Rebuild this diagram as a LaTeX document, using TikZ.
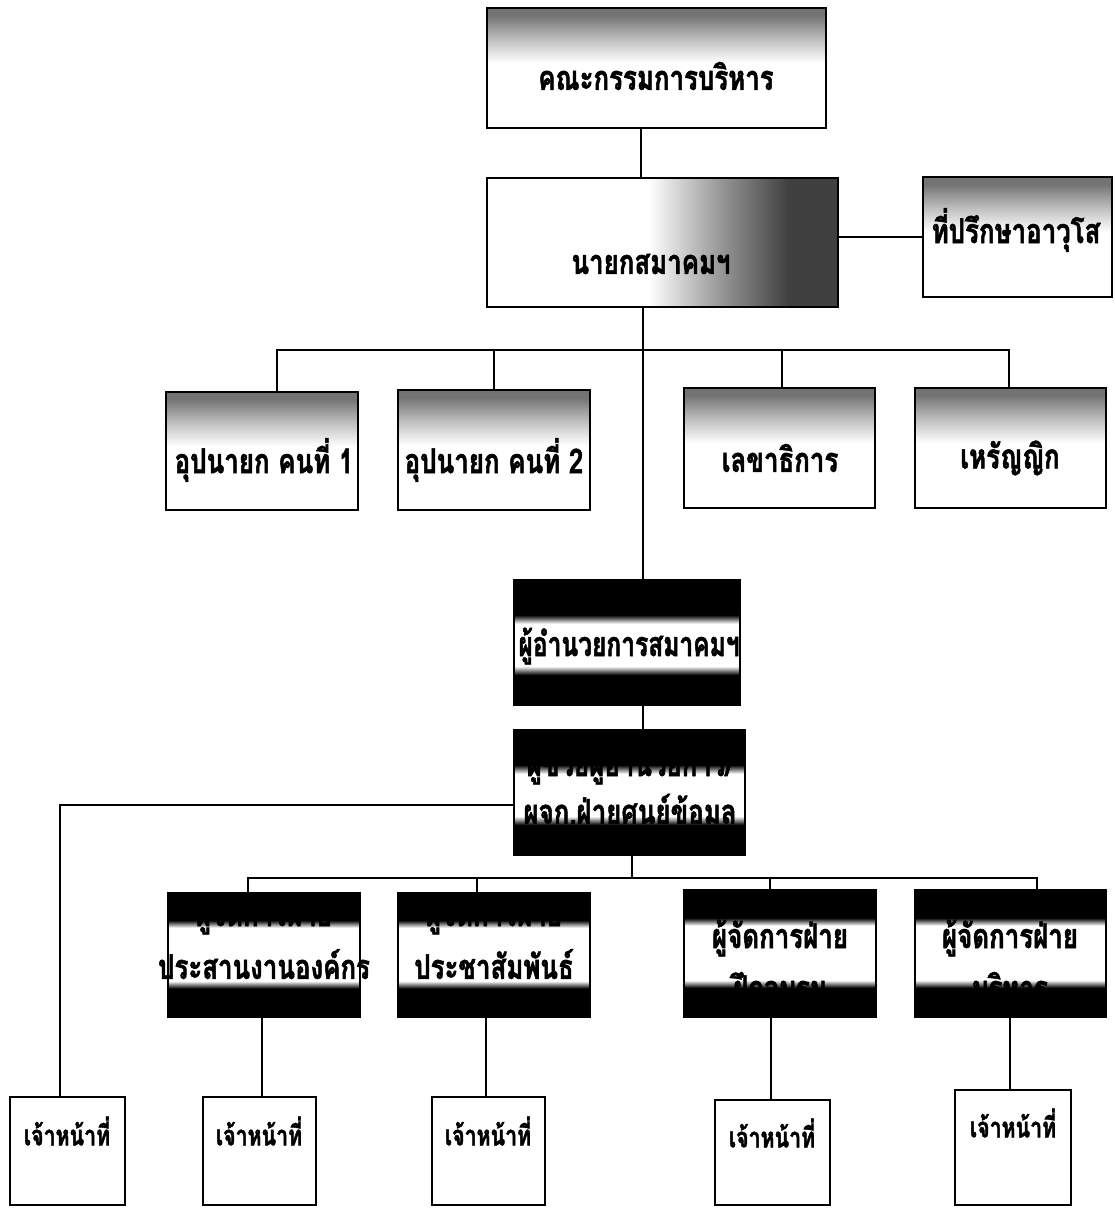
\documentclass[tikz,border=0pt]{standalone}
\usepackage{fontspec}
\newfontfamily\thaifont[Script=Thai, FakeStretch=0.76, FakeBold=1.5]{Loma}
\usetikzlibrary{fit}
\pgfdeclareverticalshading{topfade}{100bp}{color(0bp)=(white); color(25bp)=(white); color(52bp)=(white); color(62bp)=(black!25); color(72bp)=(black!55); color(100bp)=(black!55)}
\pgfdeclarehorizontalshading{rightfade}{100bp}{color(0bp)=(white); color(25bp)=(white); color(48bp)=(white); color(58bp)=(black!40); color(68bp)=(black!75); color(100bp)=(black!75)}
\pgfdeclareverticalshading{bandD}{100bp}{color(0bp)=(black); color(37bp)=(black); color(40.5bp)=(white); color(57.5bp)=(white); color(61bp)=(black); color(100bp)=(black)}
\pgfdeclareverticalshading{bandH}{100bp}{color(0bp)=(black); color(36.5bp)=(black); color(39.5bp)=(white); color(61bp)=(white); color(64bp)=(black); color(100bp)=(black)}
\tikzset{
  box/.style={draw=black, line width=2pt, inner sep=0pt, outer sep=0pt},
  gbox/.style={box, shading=topfade},
  hbox/.style={box, shading=rightfade},
  dbox/.style={box, shading=bandD},
  ebox/.style={box, shading=bandH},
  wbox/.style={box, fill=white},
  txt/.style={inner sep=0pt, text=black, font=\thaifont\bfseries\fontsize{34}{40}\selectfont},
  stxt/.style={inner sep=0pt, text=black, font=\thaifont\bfseries\fontsize{28}{33}\selectfont},
  conn/.style={draw=black, line width=1.8pt}
}
\begin{document}
\begin{tikzpicture}[x=1pt, y=-1pt]
\useasboundingbox[fill=white] (0,0) rectangle (1115,1208);
% boxes
\node[gbox, fit={(487,8) (826,128)}] (A) {};
\node[hbox, fit={(487,178) (838,307)}] (B) {};
\node[gbox, fit={(923,177) (1112,297)}] (C) {};
\node[gbox, fit={(166,392) (358,510)}] (E1) {};
\node[gbox, fit={(398,390) (590,510)}] (E2) {};
\node[gbox, fit={(684,388) (875,508)}] (E3) {};
\node[gbox, fit={(915,388) (1106,508)}] (E4) {};
\node[dbox, fit={(514,580) (740,705)}] (D) {};
\node[dbox, fit={(514,730) (745,855)}] (F) {};
\node[ebox, fit={(168,893) (360,1017)}] (H1) {};
\node[ebox, fit={(398,893) (590,1017)}] (H2) {};
\node[ebox, fit={(684,890) (876,1017)}] (H3) {};
\node[ebox, fit={(915,890) (1106,1017)}] (H4) {};
\node[wbox, fit={(10,1097) (125,1205)}] (G1) {};
\node[wbox, fit={(203,1097) (316,1205)}] (G2) {};
\node[wbox, fit={(432,1097) (545,1205)}] (G3) {};
\node[wbox, fit={(715,1100) (830,1205)}] (G4) {};
\node[wbox, fit={(955,1090) (1071,1205)}] (G5) {};
% texts
\node[txt] (tA) at (656,76) {คณะกรรมการบริหาร};
\node[txt] (tB) at (651,264) {นายกสมาคมฯ};
\node[txt] (tC) at (1016,230) {ที่ปรึกษาอาวุโส};
\node[txt] (tE1) at (264,460) {อุปนายก คนที่ 1};
\node[txt] (tE2) at (494,460) {อุปนายก คนที่ 2};
\node[txt] (tE3) at (780,458) {เลขาธิการ};
\node[txt] (tE4) at (1010,458) {เหรัญญิก};
\node[txt, xscale=0.95] (tD) at (629,646) {ผู้อำนวยการสมาคมฯ};
\node[txt] (tF1) at (630,766) {ผู้ช่วยผู้อำนวยการ/};
\node[txt] (tF2) at (630,813) {ผจก.ฝ่ายศูนย์ข้อมูล};
\node[txt] (tH1a) at (264,916) {ผู้จัดการฝ่าย};
\node[txt] (tH1b) at (264,964) {ประสานงานองค์กร};
\node[txt] (tH2a) at (494,916) {ผู้จัดการฝ่าย};
\node[txt] (tH2b) at (494,964) {ประชาสัมพันธ์};
\node[txt] (tH3a) at (780,938) {ผู้จัดการฝ่าย};
\node[txt] (tH3b) at (780,986) {ฝึกอบรม};
\node[txt] (tH4a) at (1010,938) {ผู้จัดการฝ่าย};
\node[txt] (tH4b) at (1010,986) {บริหาร};
\node[stxt] (tG1) at (67,1131) {เจ้าหน้าที่};
\node[stxt] (tG2) at (259,1131) {เจ้าหน้าที่};
\node[stxt] (tG3) at (488,1131) {เจ้าหน้าที่};
\node[stxt] (tG4) at (772,1133) {เจ้าหน้าที่};
\node[stxt] (tG5) at (1013,1123) {เจ้าหน้าที่};
% helper coordinates
\coordinate (vA) at (641,0);
\coordinate (vB) at (643,0);
\coordinate (vF) at (632,0);
\coordinate (bus1) at (0,350);
\coordinate (bus2) at (0,878);
\coordinate (fy) at (0,805);
\coordinate (e1x) at (277,0);
\coordinate (e2x) at (494,0);
\coordinate (e3x) at (782,0);
\coordinate (e4x) at (1009,0);
\coordinate (h1x) at (248,0);
\coordinate (h2x) at (477,0);
\coordinate (h3x) at (770,0);
\coordinate (h4x) at (1037,0);
\coordinate (g1x) at (60,0);
\coordinate (g2x) at (262,0);
\coordinate (g3x) at (486,0);
\coordinate (g4x) at (771,0);
\coordinate (g5x) at (1010,0);
% connectors
\draw[conn] (A.south -| vA) -- (B.north -| vA);
\draw[conn] (B.east |- C.west) -- (C.west);
\draw[conn] (B.south -| vB) -- (D.north -| vB);
\draw[conn] (E1.north -| e1x) -- (bus1 -| e1x) -- (bus1 -| e4x) -- (E4.north -| e4x);
\draw[conn] (E2.north -| e2x) -- (bus1 -| e2x);
\draw[conn] (E3.north -| e3x) -- (bus1 -| e3x);
\draw[conn] (D.south -| vB) -- (F.north -| vB);
\draw[conn] (F.west |- fy) -- (fy -| g1x) -- (G1.north -| g1x);
\draw[conn] (F.south -| vF) -- (bus2 -| vF);
\draw[conn] (H1.north -| h1x) -- (bus2 -| h1x) -- (bus2 -| h4x) -- (H4.north -| h4x);
\draw[conn] (H2.north -| h2x) -- (bus2 -| h2x);
\draw[conn] (H3.north -| h3x) -- (bus2 -| h3x);
\draw[conn] (H1.south -| g2x) -- (G2.north -| g2x);
\draw[conn] (H2.south -| g3x) -- (G3.north -| g3x);
\draw[conn] (H3.south -| g4x) -- (G4.north -| g4x);
\draw[conn] (H4.south -| g5x) -- (G5.north -| g5x);
\end{tikzpicture}
\end{document}
